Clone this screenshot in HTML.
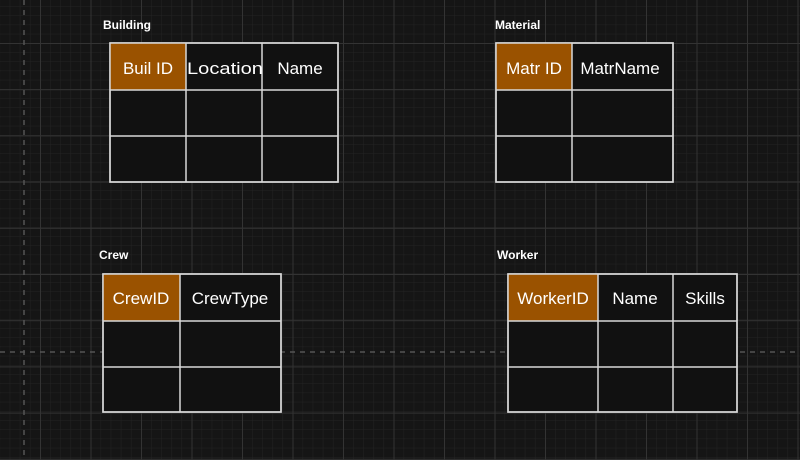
<!DOCTYPE html>
<html><head><meta charset="utf-8"><style>
html,body{margin:0;padding:0;background:#151515;}
svg{display:block}
text{font-family:"Liberation Sans",Arial,sans-serif;}
</style></head><body>
<svg width="800" height="460" viewBox="0 0 800 460" xmlns="http://www.w3.org/2000/svg">
<defs>
<pattern id="minor" x="40" y="43" width="10.1" height="9.2" patternUnits="userSpaceOnUse">
<path d="M0 0V9.2M0 0H10.1" stroke="#232323" stroke-width="1" fill="none"/>
</pattern>
<pattern id="major" x="40" y="43" width="50.5" height="46.2" patternUnits="userSpaceOnUse">
<path d="M0.5 0V46.2M0 0.5H50.5" stroke="#333" stroke-width="1" fill="none"/>
</pattern>
</defs>
<rect width="800" height="460" fill="#151515"/>
<rect width="800" height="460" fill="url(#minor)"/>
<rect width="800" height="460" fill="url(#major)"/>
<line x1="24" y1="0" x2="24" y2="460" stroke="#555" stroke-width="1.5" stroke-dasharray="5,5"/>
<line x1="0" y1="352" x2="800" y2="352" stroke="#555" stroke-width="1.5" stroke-dasharray="5,5"/>

<g font-size="12" font-weight="bold" fill="#fff">
<text x="103" y="29">Building</text>
<text x="495" y="29">Material</text>
<text x="99" y="259">Crew</text>
<text x="497" y="259">Worker</text>
</g>

<g stroke="#d8d8d8" stroke-width="1.5">
<rect x="110" y="43" width="228" height="139" fill="#111"/>
<rect x="110" y="43" width="76" height="47" fill="#9a5200" stroke="none"/>
<path d="M186 43V182M262 43V182M110 90H338M110 136H338" fill="none"/>
<rect x="110" y="43" width="228" height="139" fill="none"/>
<rect x="496" y="43" width="177" height="139" fill="#111"/>
<rect x="496" y="43" width="76" height="47" fill="#9a5200" stroke="none"/>
<path d="M572 43V182M496 90H673M496 136H673" fill="none"/>
<rect x="496" y="43" width="177" height="139" fill="none"/>
<rect x="103" y="274" width="178" height="138" fill="#111"/>
<rect x="103" y="274" width="77" height="47" fill="#9a5200" stroke="none"/>
<path d="M180 274V412M103 321H281M103 367H281" fill="none"/>
<rect x="103" y="274" width="178" height="138" fill="none"/>
<rect x="508" y="274" width="229" height="138" fill="#111"/>
<rect x="508" y="274" width="90" height="47" fill="#9a5200" stroke="none"/>
<path d="M598 274V412M673 274V412M508 321H737M508 367H737" fill="none"/>
<rect x="508" y="274" width="229" height="138" fill="none"/>
</g>

<g font-size="17" fill="#fff" text-anchor="middle">
<text x="148" y="74">Buil ID</text>
<text x="225" y="74" textLength="76" lengthAdjust="spacingAndGlyphs">Location</text>
<text x="300" y="74">Name</text>
<text x="534" y="74">Matr ID</text>
<text x="620" y="74">MatrName</text>
<text x="141" y="304">CrewID</text>
<text x="230" y="304">CrewType</text>
<text x="553" y="304">WorkerID</text>
<text x="635" y="304">Name</text>
<text x="705" y="304">Skills</text>
</g>
</svg>
</body></html>
